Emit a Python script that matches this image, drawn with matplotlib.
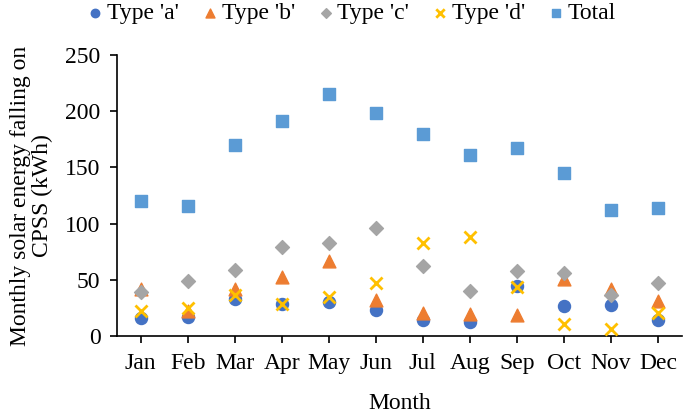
import matplotlib
matplotlib.use('Agg')
import matplotlib.pyplot as plt

months = ['Jan', 'Feb', 'Mar', 'Apr', 'May', 'Jun', 'Jul', 'Aug', 'Sep', 'Oct', 'Nov', 'Dec']
type_a = [16, 17, 33, 29, 30, 23, 14, 13, 45, 27, 28, 14]
type_b = [42, 22, 42, 53, 67, 32, 21, 20, 19, 51, 42, 31]
type_c = [39, 49, 59, 79, 83, 96, 62, 40, 58, 56, 37, 47]
type_d = [22, 25, 37, 29, 35, 47, 83, 88, 44, 11, 6, 21]
total = [120, 116, 170, 191, 215, 198, 180, 161, 167, 145, 112, 114]

plt.rcParams['font.family'] = ['Liberation Serif', 'DejaVu Serif']

fig = plt.figure(figsize=(6.85, 4.13), dpi=100)
ax = fig.add_axes([0.171, 0.186, 0.824, 0.681])

x = range(len(months))
ax.scatter(x, type_a, marker='o', s=75, color='#4472C4', label="Type 'a'", zorder=3)
ax.scatter(x, type_b, marker='^', s=85, color='#ED7D31', label="Type 'b'", zorder=3)
ax.scatter(x, type_c, marker='D', s=50, color='#A5A5A5', label="Type 'c'", zorder=3)
ax.scatter(x, type_d, marker='x', s=75, color='#FFC000', linewidths=2, label="Type 'd'", zorder=4)
ax.scatter(x, total, marker='s', s=75, color='#5B9BD5', label='Total', zorder=3)

ax.set_xlim(-0.5, len(months) - 0.5)
ax.set_ylim(0, 250)
ax.set_yticks(range(0, 251, 50))
ax.set_xticks(list(x))
ax.set_xticklabels(months)
ax.tick_params(labelsize=17, direction='out', length=5, width=1.2, colors='black', pad=7)
for s in ['top', 'right']:
    ax.spines[s].set_visible(False)
for s in ['left', 'bottom']:
    ax.spines[s].set_linewidth(1.2)

ax.set_xlabel('Month', fontsize=17, labelpad=14)
ax.set_ylabel('Monthly solar energy falling on\nCPSS (kWh)', fontsize=17, labelpad=9,
              linespacing=1.05)

fig.legend(loc='upper center', bbox_to_anchor=(0.514, 1.045), ncol=5, frameon=False,
           fontsize=17, handlelength=0.6, handletextpad=0.2, columnspacing=1.0,
           markerscale=0.7)

plt.savefig('out.png', dpi=100)
